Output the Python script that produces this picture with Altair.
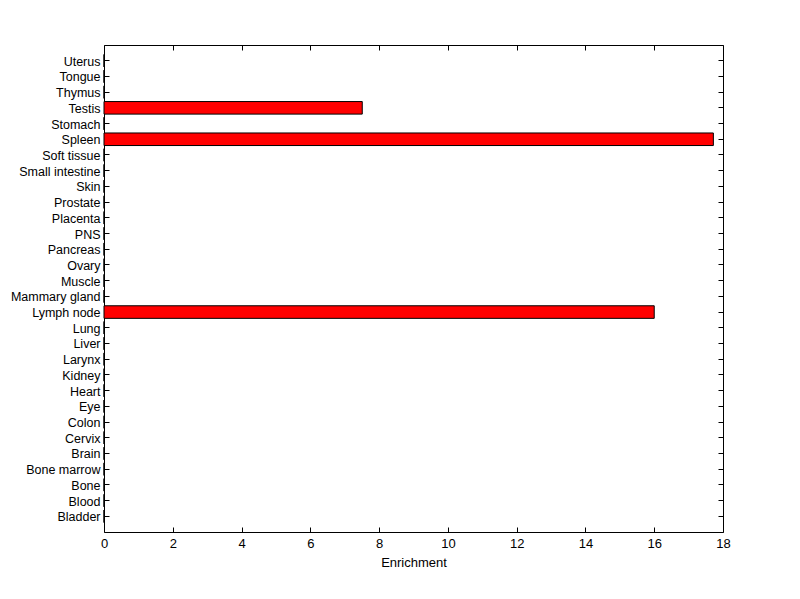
import altair as alt
import pandas as pd

tissues = ["Bladder", "Blood", "Bone", "Bone marrow", "Brain", "Cervix", "Colon", "Eye",
           "Heart", "Kidney", "Larynx", "Liver", "Lung", "Lymph node", "Mammary gland",
           "Muscle", "Ovary", "Pancreas", "PNS", "Placenta", "Prostate", "Skin",
           "Small intestine", "Soft tissue", "Spleen", "Stomach", "Testis", "Thymus",
           "Tongue", "Uterus"]
enrichment = [0, 0, 0, 0, 0, 0, 0, 0, 0, 0, 0, 0, 0, 16.0, 0, 0, 0, 0, 0, 0, 0, 0,
              0, 0, 17.72, 0, 7.51, 0, 0, 0]
x_ticks = [0, 2, 4, 6, 8, 10, 12, 14, 16, 18]

df = pd.DataFrame({"tissue": tissues, "value": enrichment})
order = list(reversed(tissues))

FONT = "Liberation Sans"
FS = 13
YFS = 12.5

yscale = alt.Scale(domain=order, paddingInner=0.2, paddingOuter=0.6)
xscale = alt.Scale(domain=[0, 18], nice=False, zero=True)

base = alt.Chart(df)

bars = base.mark_bar(fill="#FF0000", stroke="black", strokeWidth=1).encode(
    x=alt.X("value:Q", scale=xscale,
            axis=alt.Axis(orient="bottom", values=x_ticks, offset=-5, tickSize=5,
                          domain=False, grid=False, labelPadding=5, labelFlush=False,
                          title="Enrichment", titlePadding=6, titleFontWeight="normal",
                          titleFontSize=FS, labelFontSize=FS, labelFont=FONT, titleFont=FONT,
                          tickColor="black", labelColor="black", titleColor="black")),
    y=alt.Y("tissue:N", scale=yscale, sort=order,
            axis=alt.Axis(orient="left", offset=-5, tickSize=5, domain=False, grid=False,
                          labelPadding=4, title=None, labelFontSize=YFS, labelFont=FONT,
                          labelOffset=1,
                          tickColor="black", labelColor="black")),
)

mirror = base.mark_bar(opacity=0).encode(
    x=alt.X("value:Q", scale=xscale,
            axis=alt.Axis(orient="top", values=x_ticks, offset=-5, tickSize=5,
                          domain=False, grid=False, labels=False, title=None,
                          tickColor="black")),
    y=alt.Y("tissue:N", scale=yscale, sort=order,
            axis=alt.Axis(orient="right", offset=-5, tickSize=5, domain=False, grid=False,
                          labels=False, title=None, tickColor="black")),
)

chart = alt.layer(bars, mirror).resolve_axis(x="independent", y="independent").properties(
    width=619, height=487,
    autosize=alt.AutoSizeParams(type="none"),
    padding={"left": 96, "top": 37, "right": 60, "bottom": 60},
    background="white",
).configure_view(stroke="black", strokeWidth=1)

chart.save("out.html", embed_options={"renderer": "svg", "actions": False})
